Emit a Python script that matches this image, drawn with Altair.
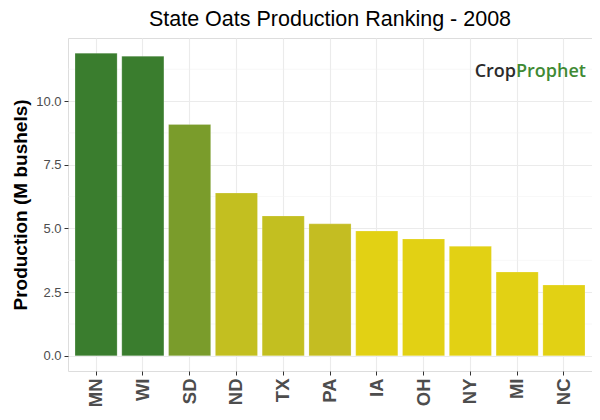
import altair as alt
import pandas as pd

states = ["MN", "WI", "SD", "ND", "TX", "PA", "IA", "OH", "NY", "MI", "NC"]
production = [11.88, 11.76, 9.08, 6.39, 5.49, 5.18, 4.90, 4.59, 4.30, 3.29, 2.78]
colors = ["#3a7d2e", "#3a7d2e", "#7a9c2b", "#c3bf20", "#c3bf20", "#c4bd22",
          "#e2d114", "#e2d114", "#e2d114", "#e2d114", "#e2d114"]
major_ticks = [0, 2.5, 5, 7.5, 10]
minor_ticks = [1.25, 3.75, 6.25, 8.75, 11.25]

df = pd.DataFrame({"state": states, "prod": production, "color": colors})
minor_df = pd.DataFrame({"v": minor_ticks})

ydom = [-0.594, 12.474]
yscale = alt.Scale(domain=ydom, nice=False, zero=False)
xscale = alt.Scale(domain=states, paddingInner=0.1, paddingOuter=0.15)

font = "Liberation Sans"

minor = alt.Chart(minor_df).mark_rule(color="#f2f2f2", strokeWidth=0.6).encode(
    y=alt.Y("v:Q", scale=yscale)
)

bars = alt.Chart(df).mark_bar(stroke="#ffffff", strokeOpacity=0.4, strokeWidth=0.5).encode(
    x=alt.X("state:N", scale=xscale, sort=states,
            axis=alt.Axis(title=None, labelAngle=270, labelAlign="right", labelBaseline="middle",
                          labelFont=font, labelFontSize=18.5, labelFontWeight="bold",
                          labelColor="#4d4d4d", labelPadding=3, tickColor="#333333", tickSize=4,
                          grid=True, gridColor="#ebebeb", gridWidth=1.1, bandPosition=0.5,
                          domain=False)),
    y=alt.Y("prod:Q", scale=yscale,
            axis=alt.Axis(title="Production (M bushels)", values=major_ticks, format=".1f",
                          titleFont=font, titleFontSize=19, titleFontWeight="bold",
                          titleColor="#000000", titlePadding=5,
                          labelFont=font, labelFontSize=13, labelColor="#4d4d4d",
                          tickColor="#333333", tickSize=4, labelPadding=3,
                          grid=True, gridColor="#ebebeb", gridWidth=1.1, domain=False)),
    color=alt.Color("color:N", scale=None),
)

logo1 = alt.Chart(pd.DataFrame({"t": ["Crop"]})).mark_text(
    font="Open Sans", fontSize=18, fontWeight=600, color="#2b2b2b", align="right", baseline="middle"
).encode(text="t:N", x=alt.value(448), y=alt.value(34))
logo2 = alt.Chart(pd.DataFrame({"t": ["Prophet"]})).mark_text(
    font="Open Sans", fontSize=18, fontWeight=600, color="#3f8a34", align="left", baseline="middle"
).encode(text="t:N", x=alt.value(448), y=alt.value(34))

chart = alt.layer(minor, bars, logo1, logo2).properties(
    width=524, height=333,
    autosize=alt.AutoSizeParams(type="none"),
    padding={"left": 60, "top": 30, "right": 0, "bottom": 40},
    title=alt.TitleParams("State Oats Production Ranking - 2008", font=font, fontSize=21.5,
                          fontWeight="normal", color="#000000", anchor="middle", offset=8),
).configure_view(stroke="#8c8c8c", strokeWidth=1.2).configure(background="white")

chart.save("out.html", embed_options={"renderer": "svg", "actions": False})
